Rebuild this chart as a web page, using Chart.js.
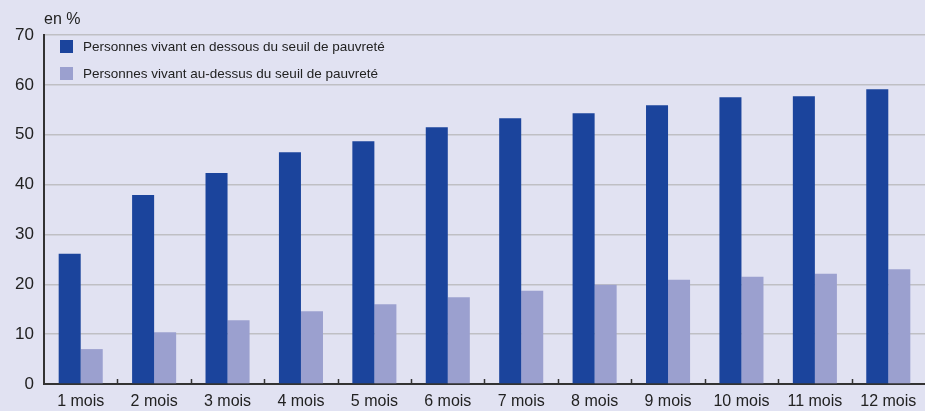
<!DOCTYPE html>
<html><head><meta charset="utf-8">
<script src="https://cdn.jsdelivr.net/npm/chart.js@4/dist/chart.umd.min.js"></script>
<style>
html,body{margin:0;padding:0;background:#E1E2F2;}
#wrap{position:relative;width:925px;height:411px;}
canvas{display:block;}
#unit{position:absolute;left:44px;top:10px;font:16px 'Liberation Sans Narrow','Arial Narrow','Liberation Sans',Arial,sans-serif;color:#222;}
#legend{position:absolute;left:60px;top:33px;font:13.5px 'Liberation Sans Narrow','Arial Narrow','Liberation Sans',Arial,sans-serif;color:#222;}
#legend div{height:27px;display:flex;align-items:center;}
#legend span.sw{display:inline-block;width:13px;height:13px;margin-right:10px;}
</style></head>
<body><div id="wrap"><canvas id="c" width="925" height="411"></canvas>
<div id="unit">en %</div>
<div id="legend"></div></div>
<script>
const categories = ["1 mois","2 mois","3 mois","4 mois","5 mois","6 mois","7 mois","8 mois","9 mois","10 mois","11 mois","12 mois"];
const seriesNames = ["Personnes vivant en dessous du seuil de pauvreté","Personnes vivant au-dessus du seuil de pauvreté"];
const belowPoverty = [26.1,37.9,42.3,46.5,48.7,51.5,53.3,54.3,55.9,57.5,57.7,59.1];
const abovePoverty = [7.0,10.4,12.8,14.6,16.0,17.4,18.7,19.9,20.9,21.5,22.1,23.0];
const yTicks = [0,10,20,30,40,50,60,70];
const colors = ["#1B449C","#9BA0CF"];

const FONT = "'Liberation Sans Narrow','Arial Narrow','Liberation Sans',Arial,sans-serif";
const leg = document.getElementById('legend');
seriesNames.forEach((n,i)=>{const d=document.createElement('div');d.innerHTML='<span class="sw" style="background:'+colors[i]+'"></span>'+n;leg.appendChild(d);});

const tickPlugin = {
  id:'tickPlugin',
  afterDatasetsDraw(chart){
    const ctx=chart.ctx, x=chart.scales.x, a=chart.chartArea;
    ctx.save();
    ctx.strokeStyle='#333';ctx.lineWidth=1.5;
    for(let i=1;i<categories.length;i++){
      const px=(x.getPixelForValue(i-1)+x.getPixelForValue(i))/2;
      ctx.beginPath();ctx.moveTo(Math.round(px)+0.5,a.bottom-5);ctx.lineTo(Math.round(px)+0.5,a.bottom);ctx.stroke();
    }
    ctx.restore();
  }
};

new Chart(document.getElementById('c'),{
  type:'bar',
  data:{labels:categories,datasets:[
    {label:seriesNames[0],data:belowPoverty,backgroundColor:colors[0]},
    {label:seriesNames[1],data:abovePoverty,backgroundColor:colors[1]}
  ]},
  options:{
    responsive:false,animation:false,
    layout:{padding:{top:35,right:0,left:0,bottom:0}},
    categoryPercentage:0.6,barPercentage:1.0,
    plugins:{legend:{display:false},tooltip:{enabled:false}},
    scales:{
      x:{offset:true,
        afterFit(s){s.height=27;},
        grid:{display:false},
        border:{display:true,color:'#333',width:2},
        ticks:{color:'#222',font:{family:FONT,size:16},padding:0,maxRotation:0}
      },
      y:{min:0,max:70,
        afterBuildTicks(s){s.ticks=yTicks.map(v=>({value:v}));},
        afterFit(s){s.width=44;},
        grid:{color:'#BFBFC4',lineWidth:1.5,drawTicks:false},
        border:{display:true,color:'#333',width:2},
        ticks:{color:'#222',font:{family:FONT,size:17},padding:10}
      }
    }
  },
  plugins:[tickPlugin]
});
</script></body></html>
